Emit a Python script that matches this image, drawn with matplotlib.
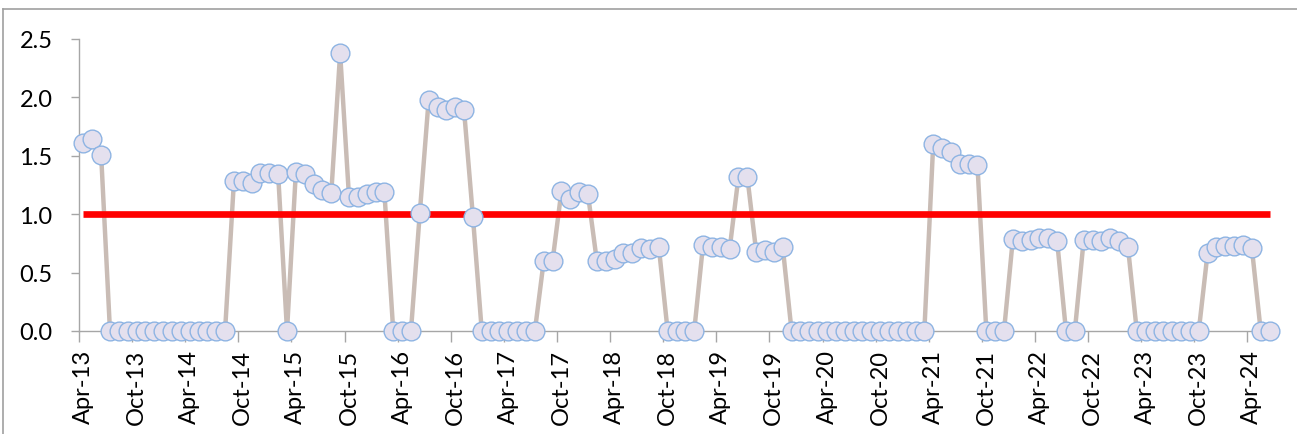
import matplotlib
matplotlib.use("Agg")
import matplotlib.pyplot as plt
import numpy as np
import pandas as pd
from matplotlib.lines import Line2D
from matplotlib.ticker import FormatStrFormatter

# Monthly categories, Apr-13 .. Jun-24
months = pd.date_range("2013-04-01", periods=135, freq="MS").strftime("%b-%y").tolist()

values = [
    1.61, 1.64, 1.51,
    0, 0, 0, 0, 0, 0, 0, 0, 0, 0, 0, 0, 0, 0,
    1.28, 1.28, 1.27, 1.35, 1.35, 1.34,
    0,
    1.365, 1.34, 1.26, 1.21, 1.18, 2.38, 1.15, 1.15, 1.17, 1.19, 1.19,
    0, 0, 0,
    1.01, 1.98, 1.92, 1.89, 1.92, 1.89, 0.98,
    0, 0, 0, 0, 0, 0, 0,
    0.60, 0.60, 1.20, 1.13, 1.19, 1.17, 0.60, 0.60, 0.62, 0.67, 0.67, 0.71, 0.70, 0.72,
    0, 0, 0, 0,
    0.74, 0.72, 0.72, 0.70, 1.32, 1.32, 0.68, 0.69, 0.68, 0.72,
    0, 0, 0, 0, 0, 0, 0, 0, 0, 0, 0, 0, 0, 0, 0, 0,
    1.60, 1.57, 1.53, 1.43, 1.43, 1.42,
    0, 0, 0,
    0.79, 0.77, 0.78, 0.80, 0.80, 0.77,
    0, 0,
    0.78, 0.78, 0.77, 0.80, 0.77, 0.72,
    0, 0, 0, 0, 0, 0, 0, 0,
    0.67, 0.72, 0.73, 0.73, 0.74, 0.71,
    0, 0,
]
threshold = 1.0
y_ticks = [0.0, 0.5, 1.0, 1.5, 2.0, 2.5]

plt.rcParams["font.family"] = ["Lato", "DejaVu Sans"]

W, H = 1297, 435
fig = plt.figure(figsize=(W / 100, H / 100), dpi=100)
fig.patch.set_facecolor("white")
ax = fig.add_axes([79 / W, 103 / H, (1274 - 79) / W, (332 - 40) / H])

x = np.arange(len(values))

# series line, threshold, then markers on top
ax.plot(x, values, color="#C9BCB5", lw=3.2, zorder=3, clip_on=False)
ax.hlines(threshold, x[0], x[-1], color="#FF0000", lw=4.8, zorder=4)
ax.plot(x, values, ls="none", marker="o", ms=13.5, mfc="#E4E0EE",
        mec="#8EB4E3", mew=1.0, zorder=5, clip_on=False)

ax.set_xlim(-0.5, len(values) - 0.5)
ax.set_ylim(0, 2.5)

# axes styling
for s in ["top", "right"]:
    ax.spines[s].set_visible(False)
for s in ["left", "bottom"]:
    ax.spines[s].set_color("#A6A6A6")
    ax.spines[s].set_linewidth(1.0)

ax.set_yticks(y_ticks)
ax.yaxis.set_major_formatter(FormatStrFormatter("%.1f"))
ax.tick_params(axis="y", length=6, width=1, color="#A6A6A6", pad=13,
               labelsize=17, labelcolor="black")

label_pos = x[::6]
ax.set_xticks(label_pos)
ax.set_xticklabels([months[i] for i in label_pos], rotation=90)
ax.set_xticks(np.arange(-0.5, len(values), 6), minor=True)
ax.tick_params(axis="x", which="major", length=0, pad=13, labelsize=17,
               labelcolor="black")
ax.tick_params(axis="x", which="minor", length=8, width=1, color="#A6A6A6")

# chart area border (top and left edges visible)
fig.add_artist(Line2D([3 / W, 1.0], [1 - 10 / H, 1 - 10 / H],
                      transform=fig.transFigure, color="#A0A0A0", lw=1.2))
fig.add_artist(Line2D([3 / W, 3 / W], [0, 1 - 10 / H],
                      transform=fig.transFigure, color="#A0A0A0", lw=1.2))

fig.savefig("out.png", dpi=100, facecolor="white")
plt.close(fig)
